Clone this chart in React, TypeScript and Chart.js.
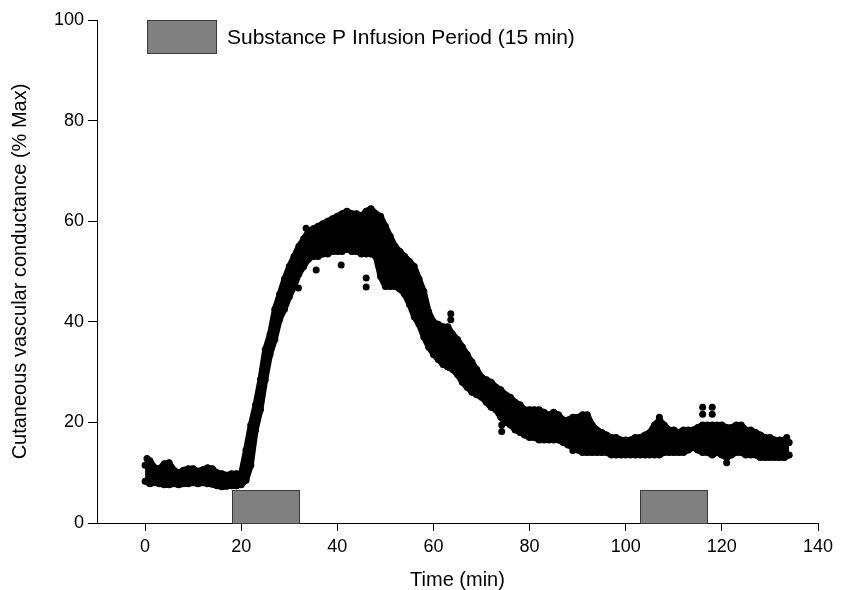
import React, { useEffect, useRef } from 'react';
import { Chart, registerables } from 'chart.js';

Chart.register(...registerables);

// Time axis sampling (minutes) for the envelope of the dense cloud of points
const timeMin: number[] = Array.from({ length: 135 }, (_, i) => i);

// Upper edge of the point cloud (% Max), read at each minute
const cvcHigh: number[] = [
  11.5, 12.4, 11.0, 10.8, 11.8, 12.0, 10.5, 10.0, 10.5, 10.8,
  10.8, 10.3, 10.6, 11.0, 10.8, 10.0, 9.8, 9.5, 9.8, 9.8,
  9.8, 14.5, 19.5, 23.5, 28.5, 34.5, 37.5, 42.5, 45.5, 48.5,
  51.0, 53.0, 55.0, 56.5, 58.0, 58.5, 59.0, 59.5, 60.0, 60.5,
  61.0, 61.5, 62.0, 61.5, 61.5, 61.0, 62.0, 62.5, 61.5, 61.0,
  59.0, 57.0, 55.0, 54.0, 53.0, 52.0, 51.0, 48.5, 46.0, 42.0,
  40.0, 39.5, 39.0, 39.0, 37.5, 36.5, 35.0, 33.5, 32.0, 30.5,
  29.0, 28.5, 28.0, 27.0, 26.5, 25.5, 25.0, 24.0, 23.5, 22.5,
  22.5, 22.5, 22.5, 22.0, 21.5, 22.0, 21.5, 20.5, 20.5, 21.0,
  21.0, 21.5, 21.5, 19.5, 18.5, 18.0, 17.5, 17.0, 17.0, 16.5,
  16.5, 16.5, 17.0, 17.0, 17.5, 18.0, 19.5, 20.5, 19.5, 18.5,
  18.5, 18.0, 18.5, 18.5, 18.5, 19.0, 19.5, 19.5, 19.5, 19.5,
  19.5, 19.0, 19.0, 19.5, 19.5, 18.5, 18.5, 18.0, 17.5, 17.0,
  17.0, 16.5, 16.5, 16.5, 16.0,
];

// Lower edge of the point cloud (% Max), read at each minute
const cvcLow: number[] = [
  8.3, 7.8, 8.0, 7.8, 7.6, 7.6, 7.8, 7.6, 7.8, 7.8,
  8.0, 7.8, 8.0, 7.8, 7.7, 7.4, 7.2, 7.3, 7.4, 7.4,
  7.6, 8.5, 11.5, 18.5, 22.5, 28.5, 33.5, 36.5, 40.5, 42.5,
  45.0, 47.0, 49.5, 51.0, 52.5, 53.0, 53.0, 53.5, 53.5, 54.0,
  54.0, 54.0, 54.5, 54.0, 54.0, 53.5, 53.5, 53.5, 53.0, 49.0,
  47.0, 47.0, 47.0, 46.5, 45.5, 43.5, 41.0, 39.5, 37.0, 35.0,
  33.5, 32.5, 31.5, 31.0, 30.5, 29.5, 28.0, 27.0, 26.0, 25.5,
  25.0, 24.0, 23.0, 22.5, 21.0, 20.0, 19.5, 18.5, 18.0, 17.5,
  17.0, 17.0, 16.5, 16.5, 16.5, 16.5, 16.5, 16.0, 15.5, 15.0,
  14.5, 14.0, 14.0, 14.0, 14.0, 14.0, 14.0, 13.5, 13.5, 13.5,
  13.5, 13.5, 13.5, 13.5, 13.5, 13.5, 13.5, 13.5, 14.0, 14.0,
  14.0, 14.0, 14.0, 14.5, 15.0, 14.5, 14.0, 14.0, 13.5, 14.0,
  13.5, 13.0, 13.5, 14.0, 14.0, 13.5, 13.5, 13.5, 13.0, 13.0,
  13.0, 13.0, 13.0, 13.0, 13.5,
];

// Isolated points lying outside the main cloud
const outlierTime: number[] = [0.4, 31.9, 33.5, 35.6, 40.8, 46.0, 46.0, 63.6, 63.6, 74.2, 74.2, 89.0, 107.0, 116.0, 118.0, 116.0, 118.0, 121.0, 133.5];
const outlierValue: number[] = [12.8, 46.7, 58.6, 50.3, 51.3, 48.7, 46.9, 41.6, 40.4, 18.2, 19.5, 14.4, 21.0, 23.0, 23.0, 21.6, 21.6, 12.0, 17.0];

// Substance P infusion periods (min)
const infusionStart: number[] = [18, 103];
const infusionEnd: number[] = [32, 117];
const infusionBarHeight = 6.6;

// Legend key box (data units)
const legendKeyX: number[] = [0.4, 14.8];
const legendKeyY: number[] = [93.4, 100];
const legendLabel = 'Substance P Infusion Period (15 min)';

const xTicks: number[] = [0, 20, 40, 60, 80, 100, 120, 140];
const yTicks: number[] = [0, 20, 40, 60, 80, 100];

const FONT = '"Liberation Sans", Arial, Helvetica, sans-serif';
const BAR_FILL = '#808080';
const BAR_EDGE = '#3a3a3a';

const infusionPlugin = {
  id: 'infusionBars',
  beforeDatasetsDraw(chart: any) {
    const { ctx, scales } = chart;
    const x = scales.x;
    const y = scales.y;
    ctx.save();
    ctx.fillStyle = BAR_FILL;
    ctx.strokeStyle = BAR_EDGE;
    ctx.lineWidth = 1;
    infusionStart.forEach((s, i) => {
      const l = Math.round(x.getPixelForValue(s));
      const r = Math.round(x.getPixelForValue(infusionEnd[i]));
      const t = Math.round(y.getPixelForValue(infusionBarHeight));
      const b = Math.round(y.getPixelForValue(0));
      ctx.fillRect(l, t, r - l, b - t);
      ctx.strokeRect(l + 0.5, t + 0.5, r - l, b - t);
    });
    // legend key
    const lx0 = Math.round(x.getPixelForValue(legendKeyX[0]));
    const lx1 = Math.round(x.getPixelForValue(legendKeyX[1]));
    const ly0 = Math.round(y.getPixelForValue(legendKeyY[1]));
    const ly1 = Math.round(y.getPixelForValue(legendKeyY[0]));
    ctx.fillRect(lx0, ly0, lx1 - lx0, ly1 - ly0);
    ctx.strokeRect(lx0 + 0.5, ly0 + 0.5, lx1 - lx0, ly1 - ly0);
    ctx.fillStyle = '#000';
    ctx.font = `21px ${FONT}`;
    ctx.textAlign = 'left';
    ctx.textBaseline = 'middle';
    ctx.fillText(legendLabel, lx1 + 11, (ly0 + ly1) / 2 + 2);
    ctx.restore();
  },
};

export default function App() {
  const ref = useRef<HTMLCanvasElement>(null);

  useEffect(() => {
    const lowPts = timeMin.map((t, i) => ({ x: t, y: cvcLow[i] }));
    const highPts = timeMin.map((t, i) => ({ x: t, y: cvcHigh[i] }));
    const outPts = outlierTime.map((t, i) => ({ x: t, y: outlierValue[i] }));

    const lineStyle = {
      borderColor: '#000',
      backgroundColor: '#000',
      borderWidth: 6,
      pointRadius: 3.5,
      pointBorderWidth: 0,
      pointBackgroundColor: '#000',
      borderJoinStyle: 'round' as const,
      borderCapStyle: 'round' as const,
      tension: 0,
    };

    const chart = new Chart(ref.current as HTMLCanvasElement, {
      type: 'line',
      data: {
        datasets: [
          { ...lineStyle, label: 'low', data: lowPts, fill: '+1' },
          { ...lineStyle, label: 'high', data: highPts, fill: false },
          {
            type: 'scatter' as any,
            label: 'outliers',
            data: outPts,
            showLine: false,
            pointRadius: 3.5,
            pointBorderWidth: 0,
            pointBackgroundColor: '#000',
            backgroundColor: '#000',
            borderColor: '#000',
          } as any,
        ],
      },
      options: {
        animation: false,
        responsive: false,
        devicePixelRatio: 1,
        layout: { padding: { top: 20, right: 30, left: 0, bottom: 0 } },
        plugins: {
          legend: { display: false },
          tooltip: { enabled: false },
        },
        scales: {
          x: {
            type: 'linear',
            min: -10,
            max: 140,
            afterBuildTicks: (s: any) => {
              s.ticks = xTicks.map((v) => ({ value: v }));
            },
            afterFit: (s: any) => {
              s.height = 67;
            },
            ticks: {
              color: '#000',
              font: { family: FONT, size: 18 },
              padding: 5,
              maxRotation: 0,
              autoSkip: false,
            },
            grid: {
              display: true,
              drawOnChartArea: false,
              drawTicks: true,
              tickLength: 8,
              color: '#000',
              lineWidth: 1,
            },
            border: { display: true, color: '#000', width: 1 },
            title: {
              display: true,
              text: 'Time (min)',
              color: '#000',
              font: { family: FONT, size: 20, lineHeight: 1 },
              padding: { top: 1, bottom: 0 },
            },
          },
          y: {
            type: 'linear',
            min: 0,
            max: 100,
            afterBuildTicks: (s: any) => {
              s.ticks = yTicks.map((v) => ({ value: v }));
            },
            afterFit: (s: any) => {
              s.width = 97;
            },
            ticks: {
              color: '#000',
              font: { family: FONT, size: 18 },
              padding: 4,
              autoSkip: false,
            },
            grid: {
              display: true,
              drawOnChartArea: false,
              drawTicks: true,
              tickLength: 9,
              color: '#000',
              lineWidth: 1,
            },
            border: { display: true, color: '#000', width: 1 },
            title: {
              display: true,
              text: 'Cutaneous vascular conductance (% Max)',
              color: '#000',
              font: { family: FONT, size: 20, lineHeight: 1 },
              padding: { top: 10, bottom: 0 },
            },
          },
        },
      },
      plugins: [infusionPlugin],
    });

    return () => chart.destroy();
  }, []);

  return (
    <div style={{ position: 'absolute', left: 0, top: 0, width: 848, height: 590 }}>
      <canvas ref={ref} width={848} height={590} style={{ display: 'block' }} />
    </div>
  );
}
